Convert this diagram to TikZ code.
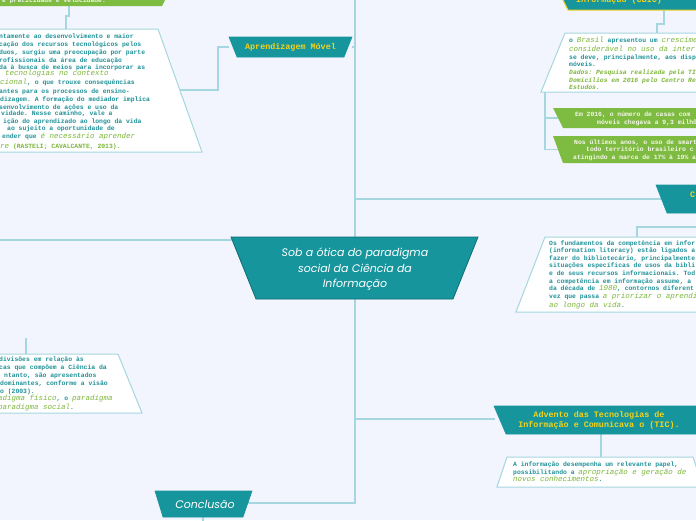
\documentclass[tikz,border=0pt]{standalone}
\usepackage{fontspec}
\setmonofont{Liberation Mono}
\newfontfamily\titlefont{Poppins}
\definecolor{bgc}{HTML}{F2F5FD}
\definecolor{tealfill}{HTML}{17959C}
\definecolor{tealdark}{HTML}{0E6D73}
\definecolor{linec}{HTML}{A6D6E0}
\definecolor{tealtext}{HTML}{1E9198}
\definecolor{greentext}{HTML}{7DB63A}
\definecolor{greenfill}{HTML}{7EBB41}
\definecolor{yellowtxt}{HTML}{F2D31B}
\definecolor{creamtxt}{HTML}{F6F6EA}
\newcommand\gi[1]{{\fontsize{7.5}{7.7}\selectfont\mdseries\itshape\color{greentext}#1}}
\newcommand\gd[1]{{\itshape\color{greentext}#1}}
\newcommand\gb[1]{{\color{greentext}#1}}
\tikzset{
  conn/.style={draw=linec, line width=1.1pt},
  tealbox/.style={fill=tealfill, draw=tealdark, line width=0.6pt},
  whitebox/.style={fill=white, draw=linec, line width=1pt},
  greenbox/.style={fill=greenfill, draw=none},
  bodytxt/.style={font=\fontsize{6.4}{7.7}\selectfont\ttfamily\bfseries, text=tealtext, inner sep=0pt, anchor=base west},
  creamt/.style={bodytxt, text=creamtxt},
  headtxt/.style={font=\fontsize{8.4}{10}\selectfont\ttfamily\bfseries, text=yellowtxt, inner sep=0pt},
  titletxt/.style={font=\fontsize{11}{15.5}\selectfont\titlefont\itshape, text=white, inner sep=0pt, align=center}
}
\begin{document}
\begin{tikzpicture}[x=1pt,y=-1pt]
\useasboundingbox (0,0) rectangle (696,520);
\fill[bgc] (0,0) rectangle (696,520);
\clip (0,0) rectangle (696,520);

% ---------- coordinates for connectors
\coordinate (ctop) at (355,237);
\coordinate (cbot) at (355,299);
\coordinate (cleft) at (232,240);
\coordinate (upend) at (355,-5);
\coordinate (leftend) at (-5,240);
\coordinate (amR) at (352,47);
\coordinate (amL) at (229,47);
\coordinate (wb1R) at (180,90);
\coordinate (gtB) at (69,6);
\coordinate (wb1T) at (66,29);
\coordinate (cbicB) at (664,10);
\coordinate (wb2T) at (657,33);
\coordinate (wb2B) at (545,92);
\coordinate (gb1L) at (558,118);
\coordinate (gb2L) at (558,149.5);
\coordinate (compL) at (661,199);
\coordinate (compOut) at (705,227);
\coordinate (wb3T) at (637,237);
\coordinate (advL) at (495,419);
\coordinate (advB) at (601,434);
\coordinate (wb4T) at (601,457);
\coordinate (conR) at (248,503);
\coordinate (conB) at (203,517);
\coordinate (conOut) at (203,525);
\coordinate (wb5T) at (26,354);
\coordinate (wb5Out) at (26,338);

% ---------- connectors
\draw[conn] (ctop) -- (upend);
\draw[conn] (amR) -- (amR -| ctop);
\draw[conn] (compL) -- (compL -| ctop);
\draw[conn] (cleft) -- (leftend);
\draw[conn] (cbot) |- (conR);
\draw[conn] (advL) -- (advL -| cbot);
\draw[conn] (amL) -- (218,47) |- (wb1R);
\draw[conn] (gtB) -- (69,16) -| (wb1T);
\draw[conn] (cbicB) -- (664,24) -| (wb2T);
\draw[conn] (wb2B) |- (gb2L);
\draw[conn] (gb1L) -- (gb1L -| wb2B);
\draw[conn] (compOut) -| (wb3T);
\draw[conn] (advB) -- (wb4T);
\draw[conn] (conB) -- (conOut);
\draw[conn] (wb5Out) -- (wb5T);

% ---------- top-left green box
\fill[greenfill] (-5,-10) -- (170,-10) -- (162,6) -- (-5,6) -- cycle;
\node[creamt] (gt1) at (2,2.5) {e praticidade e velocidade.};

% ---------- top-left white box
\draw[whitebox] (-5,29) -- (158,29) -- (202,152) -- (-5,152) -- cycle;
\node[bodytxt] (a1) at (-1,38) {ntamente ao desenvolvimento e maior};
\node[bodytxt] (a2) at (-1,46) {cação dos recursos tecnológicos pelos};
\node[bodytxt] (a3) at (-1,54) {duos, surgiu uma preocupação por parte};
\node[bodytxt] (a4) at (-1,62) {rofissionais da área de educação};
\node[bodytxt] (a5) at (-1,69.5) {da à busca de meios para incorporar as};
\node[bodytxt] (a6) at (5,75.8) {\gi{tecnologias no contexto}};
\node[bodytxt] (a7) at (0,84) {\gi{cional}, o que trouxe consequências};
\node[bodytxt] (a8) at (-1,93) {antes para os processos de ensino-};
\node[bodytxt] (a9) at (0,101) {dizagem. A formação do mediador implica};
\node[bodytxt] (a10) at (-1,109) {senvolvimento de ações e uso da};
\node[bodytxt] (a11) at (1,115.5) {vidade. Nesse caminho, vale a};
\node[bodytxt] (a12) at (3,123) {ição do aprendizado ao longo da vida};
\node[bodytxt] (a13) at (7,130) {ao sujeito a oportunidade de};
\node[bodytxt] (a14) at (2,138.5) {ender que \gi{é necessário aprender}};
\node[bodytxt] (a15) at (0,148.5) {\gi{re} \gb{(RASTELI; CAVALCANTE, 2013).}};

% ---------- Aprendizagem Movel
\draw[tealbox, draw=tealfill] (229,37) -- (352,37) -- (344,57) -- (237,57) -- cycle;
\node[headtxt] (am) at (290.5,47) {Aprendizagem Móvel};

% ---------- top-right teal (CBIC)
\filldraw[fill=tealfill, draw=yellowtxt, line width=1pt] (558,-10) -- (705,-10) -- (705,10) -- (568,10) -- cycle;
\node[headtxt, anchor=base west] (cbic) at (576,2) {Informação (CBIC)};

% ---------- top-right white box
\draw[whitebox] (565,33) -- (705,33) -- (705,92) -- (541,92) -- cycle;
\node[bodytxt] (b1) at (569,42) {o \gi{Brasil} apresentou um \gi{crescime}};
\node[bodytxt] (b2) at (569,51) {\gi{considerável no uso da inter}};
\node[bodytxt] (b3) at (569,59) {se deve, principalmente, aos disp};
\node[bodytxt] (b4) at (569,66) {móveis.};
\node[bodytxt] (b5) at (569,74) {\gd{Dados: Pesquisa realizada pela TI}};
\node[bodytxt] (b6) at (569,82) {\gd{Domicílios em 2016 pelo Centro Re}};
\node[bodytxt] (b7) at (569,89) {\gd{Estudos.}};

% ---------- green boxes right
\fill[greenfill] (553,108) -- (705,108) -- (705,128) -- (563,128) -- cycle;
\node[creamt] (g1) at (575,116.5) {Em 2016, o número de casas com};
\node[creamt] (g2) at (597,124) {móveis chegava a 9,3 milhõ};
\fill[greenfill] (553,136) -- (705,136) -- (705,163) -- (563,163) -- cycle;
\node[creamt] (g3) at (574,144) {Nos últimos anos, o uso de smart};
\node[creamt] (g4) at (586,151.5) {todo território brasileiro c};
\node[creamt] (g5) at (573,159) {atingindo a marca de 17\% à 19\% a};

% ---------- Competencia box (right)
\draw[tealbox, draw=tealfill] (656,185) -- (705,185) -- (705,213) -- (667,213) -- cycle;
\node[headtxt, anchor=base west] (comp) at (690,197) {C};

\draw[whitebox] (545,237) -- (705,237) -- (705,312) -- (516,312) -- cycle;
\node[bodytxt] (c1) at (549,245) {Os fundamentos da competência em infor};
\node[bodytxt] (c2) at (549,252.5) {(information literacy) estão ligados a};
\node[bodytxt] (c3) at (549,260) {fazer do bibliotecário, principalmente};
\node[bodytxt] (c4) at (549,267.5) {situações específicas de usos da bibli};
\node[bodytxt] (c5) at (549,275) {e de seus recursos informacionais. Tod};
\node[bodytxt] (c6) at (549,283) {a competência em informação assume, a};
\node[bodytxt] (c7) at (549,290.5) {da década de \gi{1980}, contornos diferent};
\node[bodytxt] (c8) at (549,298.5) {vez que passa \gi{a priorizar o aprendi}};
\node[bodytxt] (c9) at (549,307.5) {\gi{ao longo da vida}.};

% ---------- central node
\draw[tealbox, line width=0.8pt] (231,237) -- (478,237) -- (453,299) -- (256,299) -- cycle;
\node[titletxt] (central) at (355,269.5) {Sob a ótica do paradigma\\social da Ciência da\\Informação};

% ---------- bottom-left white box
\draw[whitebox] (-5,354) -- (118,354) -- (142,413) -- (-5,413) -- cycle;
\node[bodytxt] (d1) at (-1,361) {divisões em relação às};
\node[bodytxt] (d2) at (-1,369) {cas que compõem a Ciência da};
\node[bodytxt] (d3) at (4,377) {ntanto, são apresentados};
\node[bodytxt] (d4) at (0,385) {dominantes, conforme a visão};
\node[bodytxt] (d5) at (0,393) {o (2003).};
\node[bodytxt] (d6) at (-2,400.5) {\gi{adigma físico}, o \gi{paradigma}};
\node[bodytxt] (d7) at (-2,409) {\gi{paradigma social}.};

% ---------- Advento
\draw[tealbox, draw=tealfill] (494,406) -- (705,406) -- (705,434) -- (506,434) -- cycle;
\node[headtxt, anchor=base] (adv1) at (599,417) {Advento das Tecnologias de};
\node[headtxt, anchor=base] (adv2) at (599,427.5) {Informação e Comunicava o (TIC).};

\draw[whitebox] (507,457) -- (693,457) -- (703,487) -- (497,487) -- cycle;
\node[bodytxt] (e1) at (513,466) {A informação desempenha um relevante papel,};
\node[bodytxt] (e2) at (513,474) {possibilitando a \gi{apropriação e geração de}};
\node[bodytxt] (e3) at (513,481.5) {\gi{novos conhecimentos}.};

% ---------- Conclusao
\draw[tealbox, draw=tealfill] (155,491) -- (252,491) -- (243,517) -- (163,517) -- cycle;
\node[titletxt] (concl) at (205,504) {Conclusão};
\end{tikzpicture}
\end{document}
